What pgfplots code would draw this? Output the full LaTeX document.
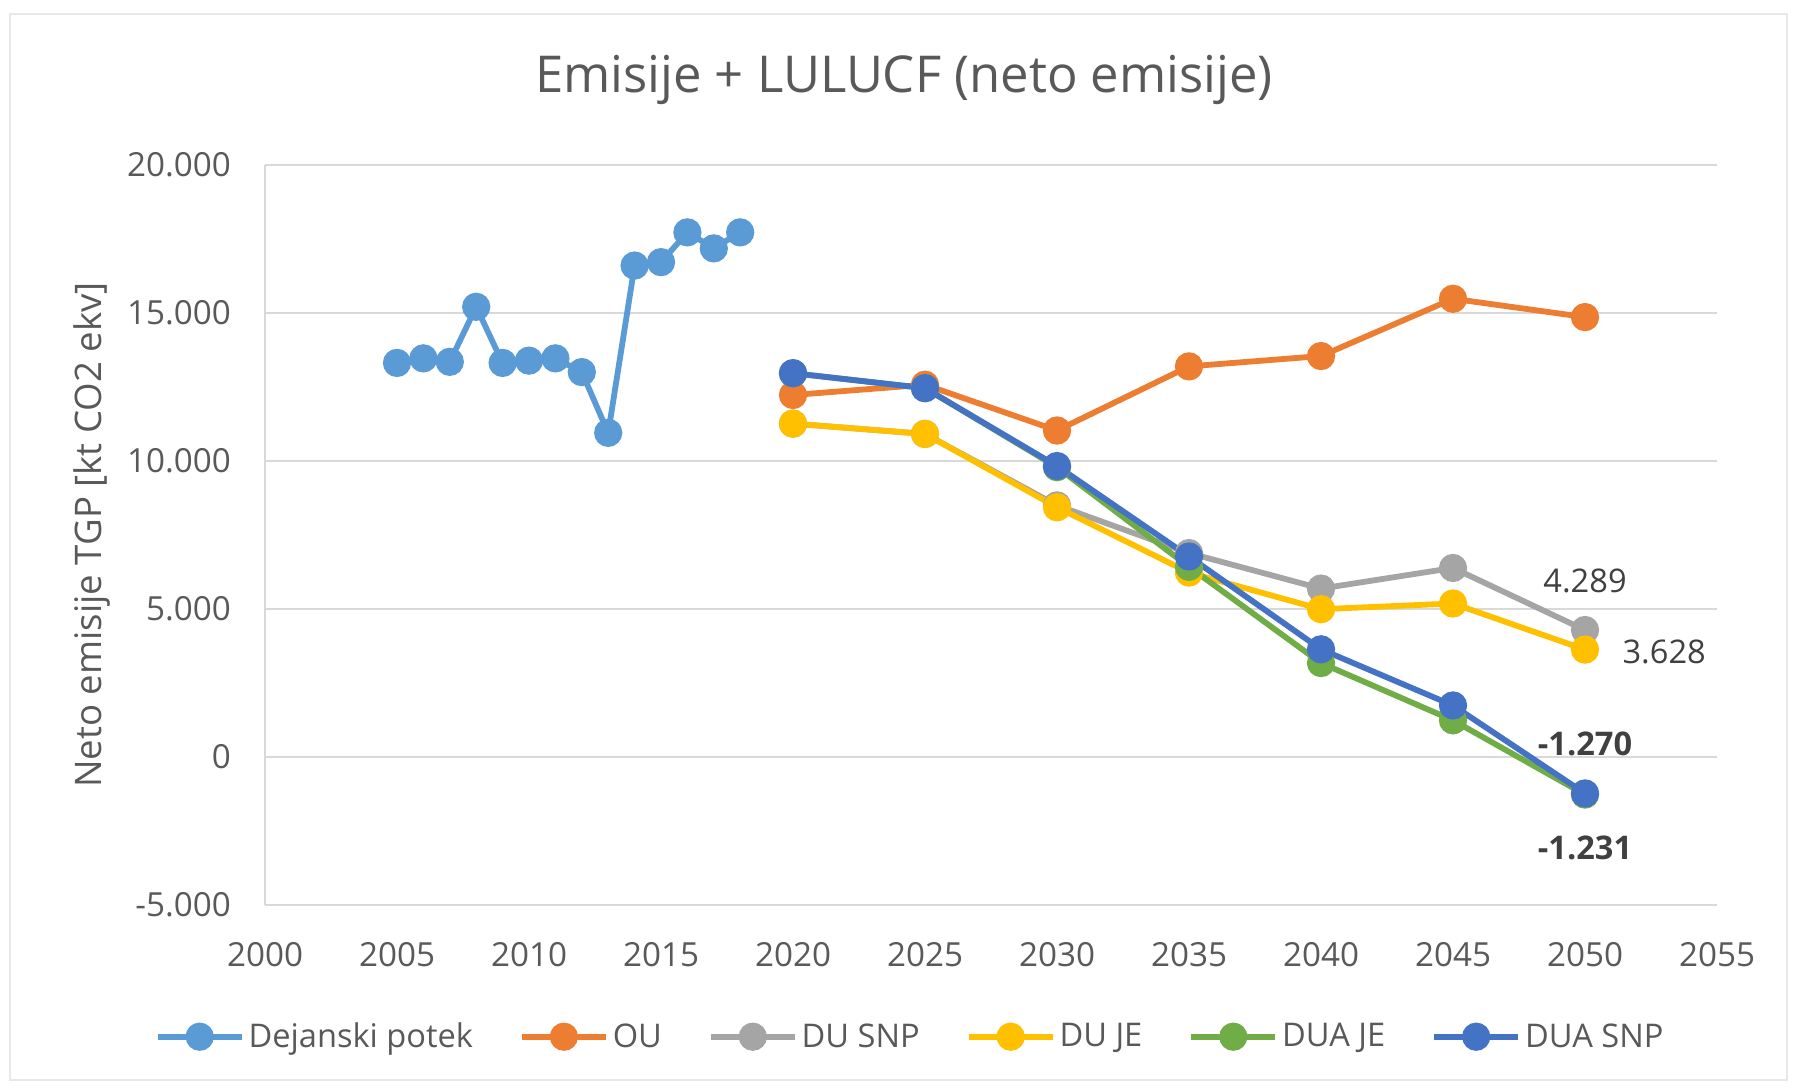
\documentclass[border=0pt]{standalone}
\usepackage{pgfplots}
\pgfplotsset{compat=1.18}
\usepackage{fontspec}
\setmainfont{Open Sans}
\definecolor{txt}{HTML}{595959}
\definecolor{lbl}{HTML}{404040}
\definecolor{gridc}{HTML}{D9D9D9}
\definecolor{cA}{HTML}{5B9BD5}
\definecolor{cB}{HTML}{ED7D31}
\definecolor{cC}{HTML}{A5A5A5}
\definecolor{cD}{HTML}{FFC000}
\definecolor{cE}{HTML}{70AD47}
\definecolor{cF}{HTML}{4472C4}
\begin{document}
\begin{tikzpicture}
\path[draw=gridc!60, line width=0.6pt] (5pt,5pt) rectangle (893.5pt,538pt);
\path (0,0) rectangle (898.5pt,545pt);
\node[text=txt, font=\fontsize{25.4}{30}\selectfont] at (452pt,505pt) {Emisije + LULUCF (neto emisije)};
\begin{axis}[
  scale only axis, width=726pt, height=370pt,
  at={(132.5pt,92.5pt)}, anchor=south west,
  xmin=2000, xmax=2055, ymin=-5000, ymax=20000,
  xtick={2000,2005,...,2055}, ytick={-5000,0,5000,10000,15000,20000},
  scaled y ticks=false, scaled x ticks=false,
  axis x line*=bottom, axis y line*=left,
  axis line style={gridc, line width=1pt, -},
  ymajorgrids, grid style={gridc, line width=1pt},
  major tick length=0pt,
  tick label style={text=txt, font=\fontsize{16.6}{19}\selectfont},
  /pgf/number format/assume math mode=true,
  x tick label style={/pgf/number format/1000 sep={}, yshift=-15pt},
  y tick label style={/pgf/number format/1000 sep={.}, xshift=-13.5pt},
  ylabel={Neto emisije TGP [kt CO2 ekv]},
  ylabel style={text=txt, font=\fontsize{18.3}{21}\selectfont, at={(axis description cs:-0.119,0.5)}, anchor=center},
  legend columns=6,
  legend style={at={(0.445,-0.178)}, anchor=center, draw=none, fill=none,
    font=\fontsize{16.3}{19}\selectfont, text=txt,
    /tikz/every even column/.append style={column sep=21pt}},
  legend image code/.code={\draw[mark repeat=2,mark phase=2] plot coordinates {(0pt,0pt) (21pt,0pt) (42pt,0pt)};},
  every axis plot/.append style={line width=2.9pt, mark=*, mark size=5.6pt},
  clip=false,
]
\addplot[cA, mark options={fill=cA}] coordinates {
(2005,13313) (2006,13467) (2007,13350) (2008,15209) (2009,13313) (2010,13390)
(2011,13467) (2012,13003) (2013,10952) (2014,16602) (2015,16718) (2016,17724)
(2017,17183) (2018,17724)};
\addlegendentry{Dejanski potek}
\addplot[cB, mark options={fill=cB}] coordinates {
(2020,12229) (2025,12577) (2030,11029) (2035,13196) (2040,13545) (2045,15480) (2050,14861)};
\addlegendentry{OU}
\addplot[cC, mark options={fill=cC}] coordinates {
(2020,11262) (2025,10914) (2030,8500) (2035,6889) (2040,5689) (2045,6386) (2050,4289)};
\addlegendentry{DU SNP}
\addplot[cD, mark options={fill=cD}] coordinates {
(2020,11262) (2025,10914) (2030,8437) (2035,6231) (2040,4993) (2045,5186) (2050,3628)};
\addlegendentry{DU JE}
\addplot[cE, mark options={fill=cE}] coordinates {
(2020,12965) (2025,12461) (2030,9791) (2035,6425) (2040,3174) (2045,1238) (2050,-1270)};
\addlegendentry{DUA JE}
\addplot[cF, mark options={fill=cF}] coordinates {
(2020,12965) (2025,12461) (2030,9830) (2035,6773) (2040,3638) (2045,1741) (2050,-1231)};
\addlegendentry{DUA SNP}
\node[text=lbl, font=\fontsize{16.3}{19}\selectfont] at (axis cs:2050,5960) {4.289};
\node[text=lbl, font=\fontsize{16.3}{19}\selectfont] at (axis cs:2053,3560) {3.628};
\node[text=lbl, font=\bfseries\fontsize{16.3}{19}\selectfont] at (axis cs:2050,426) {-1.270};
\node[text=lbl, font=\bfseries\fontsize{16.3}{19}\selectfont] at (axis cs:2050,-3057) {-1.231};
\end{axis}
\end{tikzpicture}
\end{document}
